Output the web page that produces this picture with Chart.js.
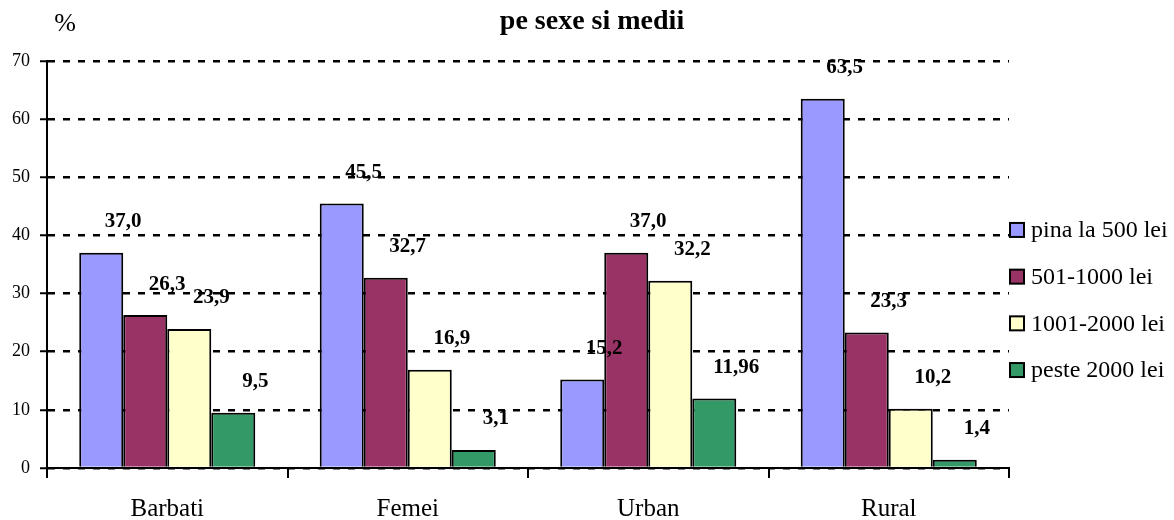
<!DOCTYPE html>
<html>
<head>
<meta charset="utf-8">
<script src="https://cdn.jsdelivr.net/npm/chart.js@4.4.0/dist/chart.umd.min.js"></script>
<style>
	html, body { margin: 0; padding: 0; background: #fff; }
</style>
</head>
<body>
<canvas id="chart" width="1174" height="520"></canvas>
<script>
const categories = ["Barbati", "Femei", "Urban", "Rural"];
const seriesNames = ["pina la 500 lei", "501-1000 lei", "1001-2000 lei", "peste 2000 lei"];
const upTo500 = [37.0, 45.5, 15.2, 63.5];
const from501To1000 = [26.3, 32.7, 37.0, 23.3];
const from1001To2000 = [23.9, 16.9, 32.2, 10.2];
const over2000 = [9.5, 3.1, 11.96, 1.4];
const yMin = 0, yMax = 70, yStep = 10;
const chartTitle = "pe sexe si medii";
const unitLabel = "%";
const colors = ["#9999FF", "#993366", "#FFFFCC", "#339966"];

const serif = "'Liberation Serif', 'Times New Roman', serif";

const fmt = v => {
	const s = Math.abs(v * 10 - Math.round(v * 10)) < 1e-6 ? v.toFixed(1) : String(v);
	return s.replace(".", ",");
};

// value labels, title, "%" and the legend on the right
const decorations = {
	id: "decorations",
	afterDatasetsDraw(chart) {
		const ctx = chart.ctx;
		ctx.save();
		ctx.font = "bold 21px " + serif;
		ctx.fillStyle = "#000";
		ctx.textAlign = "center";
		ctx.textBaseline = "middle";
		chart.data.datasets.forEach((ds, i) => {
			chart.getDatasetMeta(i).data.forEach((bar, j) => {
				ctx.fillText(fmt(ds.data[j]), bar.x + 22, bar.y - 31);
			});
		});
		ctx.restore();
	},
	afterDraw(chart) {
		const ctx = chart.ctx;
		ctx.save();
		ctx.fillStyle = "#000";
		ctx.textBaseline = "middle";

		ctx.textAlign = "center";
		ctx.font = "bold 28px " + serif;
		ctx.fillText(chartTitle, 592, 22);
		ctx.font = "26px " + serif;
		ctx.fillText(unitLabel, 65, 24);

		ctx.textAlign = "left";
		ctx.font = "24px " + serif;
		chart.data.datasets.forEach((ds, i) => {
			const cy = 300 + (i - 1.5) * 46.7;
			ctx.fillStyle = ds.backgroundColor;
			ctx.fillRect(1010, cy - 7, 14, 14);
			ctx.lineWidth = 2;
			ctx.strokeStyle = "#000";
			ctx.strokeRect(1010, cy - 7, 14, 14);
			ctx.fillStyle = "#000";
			ctx.fillText(ds.label, 1031, cy + 1);
		});
		ctx.restore();
	}
};

const seriesValues = [upTo500, from501To1000, from1001To2000, over2000];

const data = {
	labels: categories,
	datasets: seriesValues.map((values, i) => ({
		label: seriesNames[i],
		data: values,
		backgroundColor: colors[i],
		borderColor: "#000",
		borderWidth: 2,
		categoryPercentage: 0.732,
		barPercentage: 1,
	})),
};

const options = {
	responsive: false,
	animation: false,
	layout: {
		padding: { top: 61, left: 12, right: 165, bottom: 0 },
	},
	plugins: {
		legend: { display: false },
		title: { display: false },
		tooltip: { enabled: false },
	},
	scales: {
		x: {
			afterFit: scale => { scale.height = 52; },
			grid: {
				display: true,
				offset: true,
				drawOnChartArea: false,
				drawTicks: true,
				tickLength: 10,
				color: "#000",
				lineWidth: 2,
			},
			border: { display: true, color: "#000", width: 2 },
			ticks: {
				color: "#000",
				padding: 16,
				font: { family: serif, size: 25 },
			},
		},
		y: {
			min: yMin,
			max: yMax,
			afterFit: scale => { scale.width = 35; },
			grid: {
				color: "#000",
				lineWidth: 2.5,
				tickLength: 7,
				tickColor: "#000",
				tickWidth: 2,
				tickBorderDash: [],
			},
			border: { display: true, color: "#000", width: 2, dash: [7, 8] },
			ticks: {
				stepSize: yStep,
				color: "#000",
				padding: 10,
				font: { family: serif, size: 18 },
			},
		},
	},
};

new Chart(document.getElementById("chart"), {
	type: "bar",
	data: data,
	options: options,
	plugins: [decorations],
});
</script>
</body>
</html>
